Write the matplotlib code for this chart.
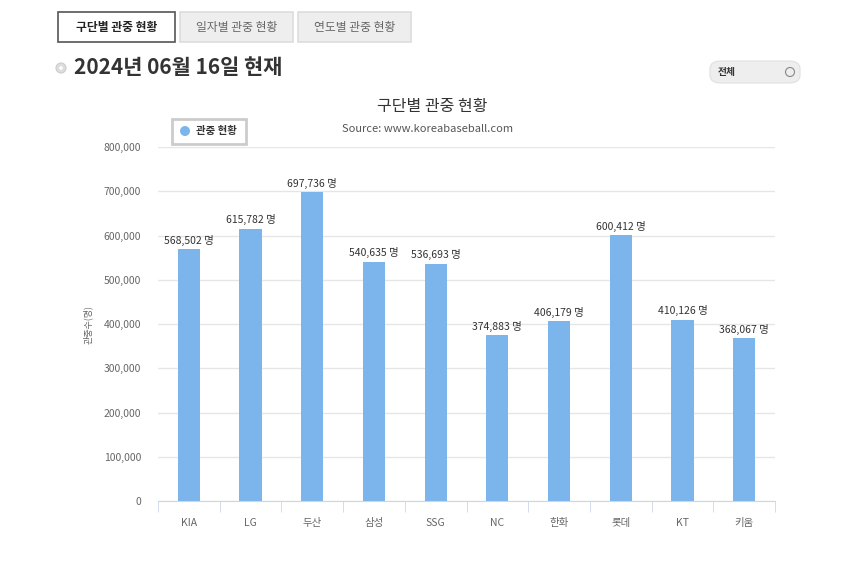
import matplotlib
matplotlib.use('Agg')
import matplotlib.pyplot as plt
from matplotlib.patches import FancyBboxPatch, Rectangle, Ellipse
from matplotlib.ticker import FuncFormatter, MultipleLocator

plt.rcParams['font.family'] = ['Noto Sans CJK KR', 'DejaVu Sans']

# data
teams = ['KIA', 'LG', '두산', '삼성', 'SSG', 'NC', '한화', '롯데', 'KT', '키움']
attendance = [568502, 615782, 697736, 540635, 536693, 374883, 406179, 600412, 410126, 368067]
tabs = ['구단별 관중 현황', '일자별 관중 현황', '연도별 관중 현황']

BAR = '#7cb5ec'

fig = plt.figure(figsize=(8.5, 5.86), dpi=100)
W, H = 850, 586

def px(x, y):
    return x / W, 1 - y / H

def dot(x, y, d, **kw):
    # round marker given in pixels
    fig.add_artist(Ellipse(px(x, y), d / W, d / H, transform=fig.transFigure, **kw))

# tabs
tab_x = [(58, 175), (180, 293), (298, 411)]
for i, (name, (x0, x1)) in enumerate(zip(tabs, tab_x)):
    bx, by = px(x0, 42)
    r = Rectangle((bx, by), (x1 - x0) / W, 30 / H, transform=fig.transFigure,
                  facecolor='white' if i == 0 else '#eeeeee',
                  edgecolor='#555555' if i == 0 else '#dddddd', lw=1.2)
    fig.add_artist(r)
    tx, ty = px((x0 + x1) / 2, 27)
    fig.text(tx, ty, name, ha='center', va='center', fontsize=8.5,
             fontweight='bold' if i == 0 else 'normal',
             color='#222222' if i == 0 else '#666666')

# date heading
dot(61, 68, 10, facecolor='#dddddd', edgecolor='#cccccc', lw=0.8)
dot(61, 68, 3.5, facecolor='white', edgecolor='none')
fig.text(*px(74, 68), '2024년 06월 16일 현재', ha='left', va='center',
         fontsize=15, fontweight='bold', color='#333333')

# dropdown
dx, dy = px(710, 83)
fig.add_artist(FancyBboxPatch((dx, dy), 90 / W, 22 / H, transform=fig.transFigure,
                              boxstyle='round,pad=0,rounding_size=0.013',
                              facecolor='#eeeeee', edgecolor='#e0e0e0', lw=0.8))
fig.text(*px(718, 72), '전체', ha='left', va='center', fontsize=7,
         fontweight='bold', color='#333333')
dot(790, 72, 9, facecolor='none', edgecolor='#888888', lw=0.8)

# chart titles
fig.text(*px(432, 107), '구단별 관중 현황', ha='center', va='center', fontsize=11.5, color='#333333')
fig.text(*px(428, 129), 'Source: www.koreabaseball.com', ha='center', va='center',
         fontsize=8, color='#555555')

# legend box
lx, ly = px(172, 144)
fig.add_artist(Rectangle((lx, ly), 74 / W, 25 / H, transform=fig.transFigure,
                         facecolor='white', edgecolor='#cccccc', lw=2))
dot(185, 131, 10, facecolor=BAR, edgecolor='none')
fig.text(*px(196, 131), '관중 현황', ha='left', va='center', fontsize=7.5,
         fontweight='bold', color='#333333')

# axes
ax = fig.add_axes([158 / W, 1 - 501 / H, (775 - 158) / W, (501 - 147) / H])
x = list(range(len(teams)))
ax.bar(x, attendance, width=0.36, color=BAR, zorder=3)
ax.set_xlim(-0.5, len(teams) - 0.5)
ax.set_ylim(0, 800000)
ax.yaxis.set_major_locator(MultipleLocator(100000))
ax.yaxis.set_major_formatter(FuncFormatter(lambda v, p: f'{int(v):,}' if v else '0'))
ax.grid(axis='y', color='#e6e6e6', lw=1, zorder=0)
for s in ['top', 'right', 'left']:
    ax.spines[s].set_visible(False)
ax.spines['bottom'].set_color('#ccd6eb')
ax.tick_params(axis='y', length=0, labelsize=7.5, labelcolor='#666666', pad=12)
ax.set_xticks(x)
ax.set_xticklabels(teams)
ax.tick_params(axis='x', length=0, labelsize=7.5, labelcolor='#666666', pad=12)
ax.set_xticks([i - 0.5 for i in range(len(teams) + 1)], minor=True)
ax.tick_params(axis='x', which='minor', length=8, color='#ccd6eb', direction='out')
ax.set_ylabel('관중수(명)', fontsize=6.5, color='#666666', labelpad=8)

for xi, v in zip(x, attendance):
    ax.text(xi, v + 8000, f'{v:,} 명', ha='center', va='bottom', fontsize=7.5, color='#333333')

fig.savefig('out.png', dpi=100)
